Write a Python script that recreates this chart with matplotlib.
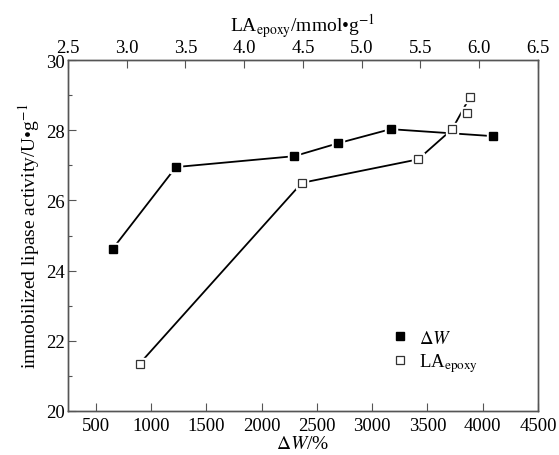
import matplotlib; matplotlib.use('Agg')
import matplotlib.pyplot as plt
from matplotlib.ticker import MultipleLocator

plt.rcParams['font.family'] = ['Liberation Serif', 'DejaVu Serif']
plt.rcParams['mathtext.fontset'] = 'stix'

# weight gain (bottom axis) vs activity
dw      = [654, 1226, 2296, 2694, 3168, 4095]
dw_act  = [24.62, 26.95, 27.26, 27.63, 28.03, 27.83]

# epoxy content (top axis) vs activity
la      = [3.11, 4.49, 5.48, 5.77, 5.90, 5.92]
la_act  = [21.35, 26.50, 27.17, 28.03, 28.49, 28.94]
la_line = [0, 1, 2, 3, 5]   # points the drawn curve passes through

fig = plt.figure(figsize=(5.59, 4.56), dpi=100)
ax = fig.add_axes([0.1216, 0.0965, 0.8408, 0.7697])
ax2 = ax.twiny()

edge = '#555555'
for a in (ax, ax2):
    for s in a.spines.values():
        s.set_color(edge); s.set_linewidth(1.0)

# filled squares on bottom axis
ax.plot(dw, dw_act, '-', color='k', lw=1.3, zorder=2)
ax.plot(dw, dw_act, 's', ms=8, mfc='white', mec='white', zorder=3)
ax.plot(dw, dw_act, 's', ms=5.5, mfc='k', mec='k', zorder=4)

# open squares on top axis
ax2.plot([la[i] for i in la_line], [la_act[i] for i in la_line], '-', color='k', lw=1.3, zorder=2)
ax2.plot(la, la_act, 's', ms=8, mfc='white', mec='white', zorder=3)
ax2.plot(la, la_act, 's', ms=5.5, mfc='white', mec='#333333', mew=0.9, zorder=4)

ax.set_xlim(250, 4500)
ax.set_ylim(20, 30)
ax2.set_xlim(2.5, 6.5)

ax.set_xticks([500, 1000, 1500, 2000, 2500, 3000, 3500, 4000, 4500])
ax.set_yticks([20, 22, 24, 26, 28, 30])
ax.yaxis.set_minor_locator(MultipleLocator(1))
ax2.set_xticks([2.5, 3.0, 3.5, 4.0, 4.5, 5.0, 5.5, 6.0, 6.5])
ax2.set_xticklabels(['2.5', '3.0', '3.5', '4.0', '4.5', '5.0', '5.5', '6.0', '6.5'])

ax.tick_params(axis='x', direction='in', length=6, width=0.8, color=edge, labelsize=13.5, pad=4)
ax.tick_params(axis='y', which='major', direction='in', length=6, width=0.8, color=edge, labelsize=13.5, pad=2)
ax.tick_params(axis='y', which='minor', direction='in', length=3, width=0.8, color=edge)
ax2.tick_params(axis='x', direction='in', length=6, width=0.8, color=edge, labelsize=13.5, pad=3)

ax.set_xlabel(r'$\Delta W$/%', fontsize=14, labelpad=1)
ax.set_ylabel('immobilized lipase activity/U•g$^{-1}$', fontsize=14, labelpad=3)
ax2.set_xlabel('LA$_{\\rm epoxy}$/mmol•g$^{-1}$', fontsize=14, labelpad=6)

h1 = ax.plot([], [], 's', ms=6, mfc='k', mec='k')[0]
h2 = ax.plot([], [], 's', ms=6, mfc='white', mec='#333333', mew=0.9)[0]
ax.legend([h1, h2], [r'$\Delta W$', r'LA$_{\rm epoxy}$'], loc='upper left',
          bbox_to_anchor=(0.655, 0.28), frameon=False, fontsize=13.5,
          handlelength=0.8, handletextpad=0.6, labelspacing=0.25)

plt.savefig('out.png', dpi=100)
